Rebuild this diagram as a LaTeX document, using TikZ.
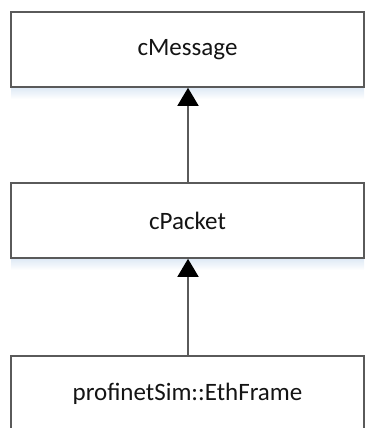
\documentclass[tikz,border=0pt]{standalone}
\usepackage{fontspec}
\setmainfont{Carlito}
\usetikzlibrary{arrows.meta}
\definecolor{boxline}{HTML}{5A5A5A}
\definecolor{shadowblue}{HTML}{DCE8F5}
\definecolor{txt}{HTML}{141414}
\tikzset{
  classbox/.style={draw=boxline, line width=1.6pt, fill=white,
    minimum width=353pt, minimum height=75pt, inner sep=0pt,
    font=\fontsize{25}{28}\selectfont, text=txt},
  inherit/.style={draw=boxline, line width=1.6pt,
    -{Triangle[width=21pt,length=18pt,fill=black,color=black]}},
}
\begin{document}
\begin{tikzpicture}[x=1pt,y=-1pt]
\useasboundingbox (0,0) rectangle (365,428);
\begin{scope}
\clip (0,0) rectangle (365,428);
% soft shadows under the class boxes
\foreach \yb in {87,258}{
  \shade[top color=shadowblue, bottom color=white] (11,\yb) rectangle (364,\yb+12);
}
\node[classbox] (msg) at (187.5,49.5) {cMessage};
\node[classbox] (pkt) at (187.5,220.5) {cPacket};
\node[classbox] (eth) at (187.5,393.5) {profinetSim::EthFrame};
\draw[inherit] (eth.north -| 188,0) -- (pkt.south -| 188,0);
\draw[inherit] (pkt.north -| 188,0) -- (msg.south -| 188,0);
\end{scope}
\end{tikzpicture}
\end{document}
